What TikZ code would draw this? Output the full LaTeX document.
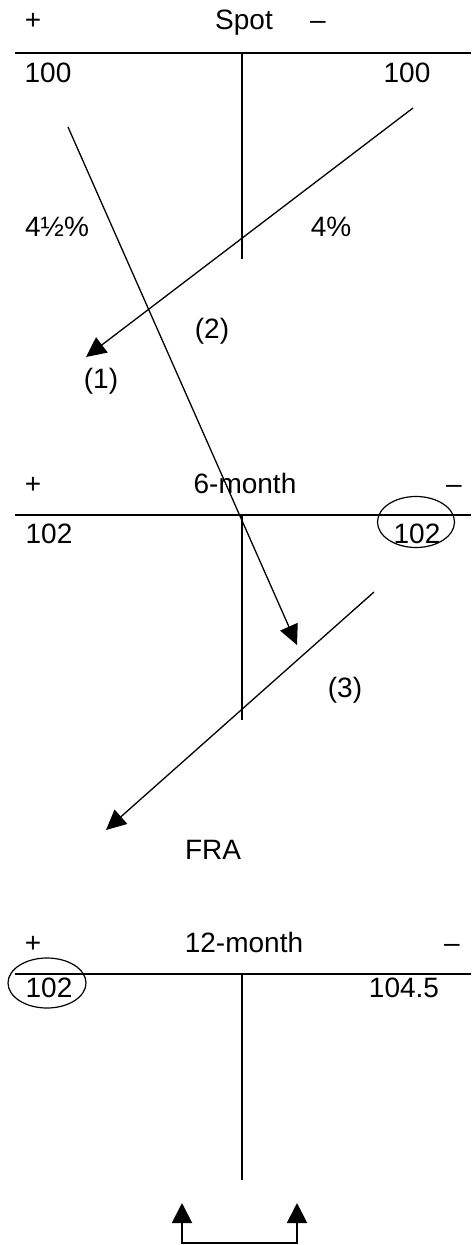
\documentclass[tikz,border=0pt]{standalone}
\usepackage{fontspec}
\setmainfont{Liberation Sans}
\usetikzlibrary{arrows.meta, shapes.geometric}

\begin{document}
\begin{tikzpicture}[x=0.5pt, y=-0.5pt,
                lbl/.style={font=\fontsize{14}{16}\selectfont, anchor=base, inner sep=0pt},
                tline/.style={line width=1pt},
                flow/.style={line width=0.65pt, -{Triangle[length=10pt, width=9.5pt]}},
                ring/.style={draw, ellipse, line width=0.6pt, inner sep=0pt}
            ]
            \useasboundingbox (0,0) rectangle (471,1245);

            % spot
            \node[lbl] (spotplus) at (33, 30) {+};
            \node[lbl] (spot) at (244, 30) {Spot};
            \node[lbl] (spotminus) at (318, 30) {–};
            \coordinate (spotl) at (15, 53);
            \coordinate (spotr) at (471, 53);
            \coordinate (spottop) at (242, 53);
            \coordinate (spotbot) at (242, 259);
            \draw[tline] (spotl) -- (spotr);
            \draw[tline] (spottop) -- (spotbot);
            \node[lbl] (spotdr) at (48, 83) {100};
            \node[lbl] (spotcr) at (407, 83) {100};
            \node[lbl] (ratedr) at (57, 237) {4½\%};
            \node[lbl] (ratecr) at (331, 237) {4\%};

            % 6-month
            \node[lbl] (sixplus) at (33, 493) {+};
            \node[lbl] (six) at (245, 493) {6-month};
            \node[lbl] (sixminus) at (454, 493) {–};
            \coordinate (sixl) at (15, 515);
            \coordinate (sixr) at (471, 515);
            \coordinate (sixtop) at (242, 515);
            \coordinate (sixbot) at (242, 720);
            \draw[tline] (sixl) -- (sixr);
            \draw[tline] (sixtop) -- (sixbot);
            \node[lbl] (sixdr) at (49, 543) {102};
            \node[lbl] (sixcr) at (417, 543) {102};
            \node[ring, minimum width=38.5pt, minimum height=25.5pt] (sixring) at (416, 522) {};

            % 12-month
            \node[lbl] (twplus) at (33, 952) {+};
            \node[lbl] (tw) at (244, 952) {12-month};
            \node[lbl] (twminus) at (452, 952) {–};
            \coordinate (twl) at (15, 974);
            \coordinate (twr) at (471, 974);
            \coordinate (twtop) at (242, 974);
            \coordinate (twbot) at (242, 1180);
            \draw[tline] (twl) -- (twr);
            \draw[tline] (twtop) -- (twbot);
            \node[lbl] (twdr) at (49, 997) {102};
            \node[lbl] (twcr) at (404, 997) {104.5};
            \node[ring, minimum width=39pt, minimum height=25pt] (twring) at (47, 983) {};

            % flows
            \coordinate (onestart) at (413, 108);
            \coordinate (oneend) at (86, 357);
            \coordinate (twostart) at (68, 127);
            \coordinate (twoend) at (297, 645);
            \coordinate (threestart) at (374, 592);
            \coordinate (threeend) at (106, 830);
            \draw[flow] (onestart) -- (oneend);
            \draw[flow] (twostart) -- (twoend);
            \draw[flow] (threestart) -- (threeend);
            \node[lbl] (one) at (101, 388) {(1)};
            \node[lbl] (two) at (212, 339) {(2)};
            \node[lbl] (three) at (345, 697) {(3)};
            \node[lbl] (fra) at (213, 859) {FRA};

            % swap
            \coordinate (swaplt) at (182, 1203);
            \coordinate (swaplb) at (182, 1243);
            \coordinate (swaprb) at (297, 1243);
            \coordinate (swaprt) at (297, 1203);
            \draw[line width=1pt, {Triangle[length=10pt, width=10pt]}-{Triangle[length=10pt, width=10pt]}]
                (swaplt) -- (swaplb) -- (swaprb) -- (swaprt);

            \end{tikzpicture}
\end{document}
